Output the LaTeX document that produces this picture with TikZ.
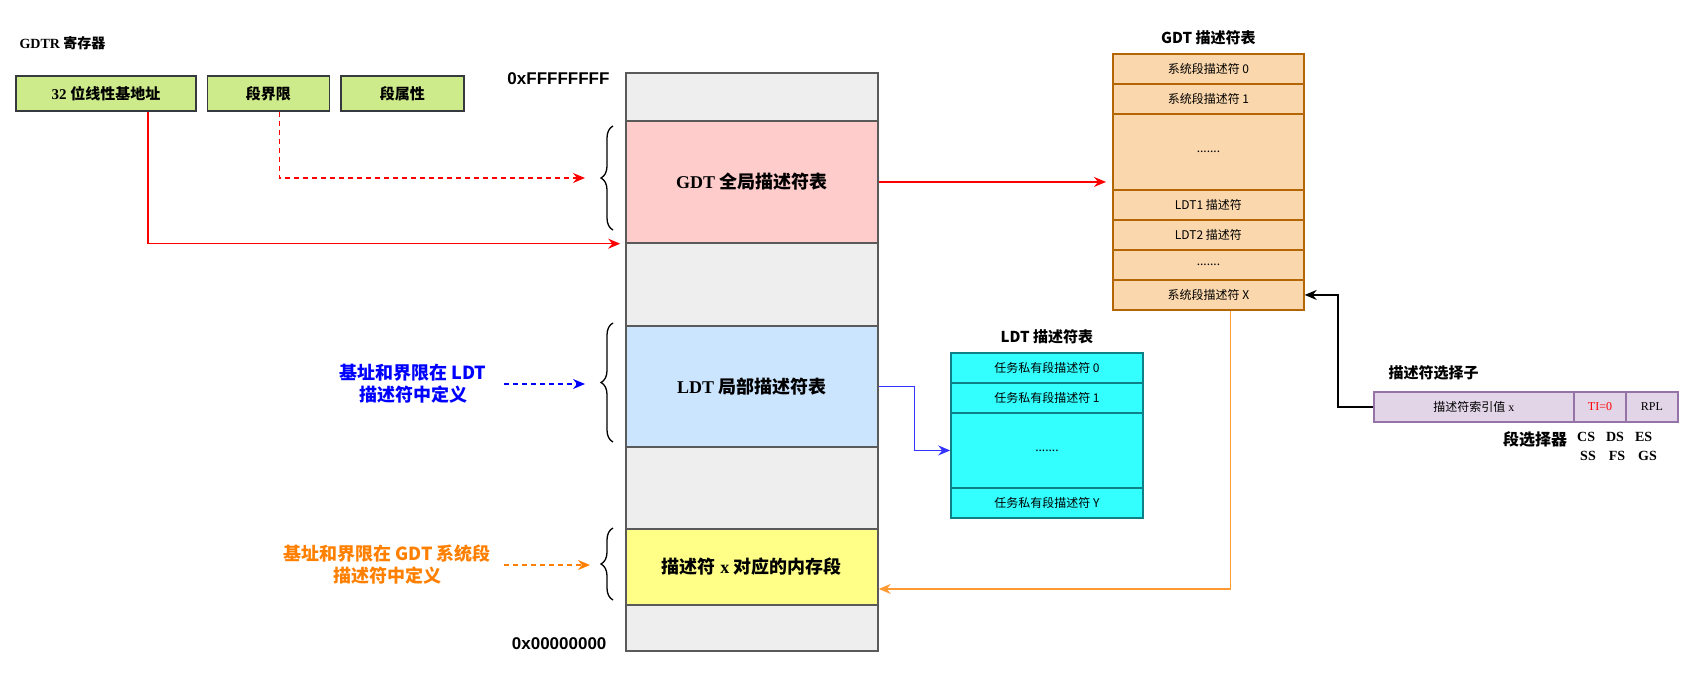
\documentclass[tikz,border=0pt]{standalone}
\usepackage{fontspec}
\setmainfont{Liberation Serif}
\setsansfont{Liberation Sans}
\newfontfamily\cjk{Noto Sans CJK SC}
\usepackage{tikz}
\usetikzlibrary{matrix,arrows.meta,positioning,decorations.pathreplacing}

\definecolor{regfill}{HTML}{CDEB8B}
\definecolor{regline}{HTML}{36393D}
\definecolor{memgray}{HTML}{EEEEEE}
\definecolor{memline}{HTML}{5A5A5A}
\definecolor{gdtpink}{HTML}{FFCCCC}
\definecolor{ldtblue}{HTML}{CCE5FF}
\definecolor{segyellow}{HTML}{FFFF88}
\definecolor{gdtfill}{HTML}{FAD7AC}
\definecolor{gdtline}{HTML}{B46504}
\definecolor{ldtfill}{HTML}{33FFFF}
\definecolor{ldtline}{HTML}{0E8088}
\definecolor{selfill}{HTML}{E1D5E7}
\definecolor{selline}{HTML}{9673A6}
\definecolor{linkred}{HTML}{FF0000}
\definecolor{linkblue}{HTML}{3333FF}
\definecolor{noteblue}{HTML}{0000FF}
\definecolor{noteorange}{HTML}{FF8000}
\definecolor{linkorange}{HTML}{FF9933}

\newcommand\zh[1]{{\cjk #1}}

\tikzset{
  regbox/.style={draw=regline, fill=regfill, line width=1.5pt, minimum height=35,
    anchor=center, font=\fontsize{15}{18}\selectfont\bfseries},
  memcell/.style={draw=memline, fill=memgray, line width=1.5pt, minimum width=252,
    inner sep=0pt, anchor=center, font=\fontsize{18}{22}\selectfont\bfseries},
  gdtseg/.style={fill=gdtpink, minimum height=122},
  ldtseg/.style={fill=ldtblue, minimum height=121},
  dataseg/.style={fill=segyellow, minimum height=76},
  gdtcell/.style={draw=gdtline, fill=gdtfill, line width=1.5pt, minimum width=191,
    minimum height=30, anchor=center, font=\cjk\fontsize{12}{14}\selectfont},
  ldtcell/.style={draw=ldtline, fill=ldtfill, line width=1.5pt, minimum width=192,
    minimum height=30, anchor=center, font=\cjk\fontsize{12}{14}\selectfont},
  selcell/.style={draw=selline, fill=selfill, line width=1.5pt, minimum height=30,
    anchor=center, font=\fontsize{12}{14}\selectfont},
  tabletitle/.style={font=\cjk\fontsize{15}{18}\selectfont\bfseries},
  memonote/.style={align=center, font=\cjk\fontsize{18}{22}\selectfont\bfseries},
  curly/.style={decorate, decoration={brace, amplitude=12pt}, line width=1.3pt},
  wire/.style={->, line width=1.5pt},
  hint/.style={->, line width=1.5pt, dash pattern=on 5pt off 4pt},
}

\begin{document}
\begin{tikzpicture}[x=1pt, y=-1pt, >={Stealth[length=12pt, width=10pt, inset=4pt]}]
  \useasboundingbox (0,0) rectangle (1691,677);

  % GDTR register
  \node (gdtrname) [anchor=west, font=\fontsize{14}{17}\selectfont\bfseries] at (16,43) {GDTR \zh{寄存器}};
  \matrix (gdtr) [matrix of nodes, anchor=north west, inner sep=0pt, column sep=10pt, nodes={regbox}] at (15,75)
  {
    |[minimum width=180]| 32 \zh{位线性基地址} & |[minimum width=122]| \zh{段界限} & |[minimum width=123]| \zh{段属性} \\
  };

  % memory
  \matrix (mem) [matrix of nodes, nodes in empty cells, anchor=north west, inner sep=0pt, row sep=-1.5pt, nodes={memcell}] at (625,72)
  {
    |[minimum height=48]| \\
    |[gdtseg]| GDT \zh{全局描述符表} \\
    |[minimum height=83]| \\
    |[ldtseg]| LDT \zh{局部描述符表} \\
    |[minimum height=82]| \\
    |[dataseg]| \zh{描述符} x \zh{对应的内存段} \\
    |[minimum height=46]| \\
  };
  \node (hi) [anchor=east, font=\sffamily\bfseries\fontsize{17}{20}\selectfont] at (613,79) {0xFFFFFFFF};
  \node (lo) [anchor=east, font=\sffamily\bfseries\fontsize{17}{20}\selectfont] at (610,644) {0x00000000};

  \draw[curly] (613,230) -- node[midway, coordinate, left=12pt] (gdtbr) {} (613,126);
  \draw[curly] (613,442) -- node[midway, coordinate, left=12pt] (ldtbr) {} (613,323);
  \draw[curly] (613,600) -- node[midway, coordinate, left=12pt] (segbr) {} (613,528);

  % GDT / LDT tables
  \matrix (gdt) [matrix of nodes, anchor=north west, inner sep=0pt, row sep=-1.5pt, nodes={gdtcell}] at (1112,53)
  {
    系统段描述符 0 \\
    系统段描述符 1 \\
    |[minimum height=76]| ....... \\
    LDT1 描述符 \\
    LDT2 描述符 \\
    ....... \\
    系统段描述符 X \\
  };
  \node (gdttitle) [tabletitle, above=5pt of gdt] {GDT 描述符表};

  \matrix (ldt) [matrix of nodes, anchor=north west, inner sep=0pt, row sep=-1.5pt, nodes={ldtcell}] at (950,352)
  {
    任务私有段描述符 0 \\
    任务私有段描述符 1 \\
    |[minimum height=75]| ....... \\
    任务私有段描述符 Y \\
  };
  \node (ldttitle) [tabletitle, above=5pt of ldt] {LDT 描述符表};

  % selector
  \matrix (sel) [matrix of nodes, anchor=north west, inner sep=0pt, column sep=-1.5pt, nodes={selcell}] at (1373,391)
  {
    |[minimum width=200]| \zh{描述符索引值} x & |[minimum width=52, text=linkred]| TI=0 & |[minimum width=52]| RPL \\
  };
  \node (seltitle) [tabletitle, anchor=west] at (1385,373) {描述符选择子};
  \node (segname) [anchor=west, inner sep=0pt, font=\cjk\fontsize{16}{19}\selectfont\bfseries] at (1503,439) {段选择器};
  \node (segregs) [anchor=north west, inner sep=0pt, align=left, font=\fontsize{14}{19}\selectfont\bfseries] at (1577,432)
    {CS\hspace{11pt}DS\hspace{11pt}ES\\\hspace*{3pt}SS\hspace{13pt}FS\hspace{13pt}GS};

  % notes
  \node (ldtnote) [memonote, text=noteblue] at (413,384) {基址和界限在 LDT\\描述符中定义};
  \node (segnote) [memonote, text=noteorange] at (387,565) {基址和界限在 GDT 系统段\\描述符中定义};

  % links
  \draw[wire, linkred] ([xshift=42]gdtr-1-1.south) |- ([xshift=-5]mem-2-1.south west);
  \draw[hint, linkred] ([xshift=11]gdtr-1-2.south) |- ([xshift=-16]gdtbr);
  \draw[wire, linkred] (mem-2-1.east) -- ([xshift=-6]mem-2-1.east -| gdt.west);
  \draw[wire, linkblue] (mem-4-1.east) -- ++(36,0) |- (ldt-3-1.west);
  \draw[wire, linkorange] ([xshift=22]gdt.south) |- ([yshift=-22]mem-6-1.east);
  \draw[wire] (sel-1-1.west) -- ++(-35,0) |- (gdt-7-1.east);
  \draw[hint, noteblue, shorten <=14pt, shorten >=16pt] (ldtnote.east) -- (ldtnote.east -| ldtbr);
  \draw[hint, noteorange, shorten <=10pt, shorten >=11pt] (segnote.east) -- (segnote.east -| segbr);
\end{tikzpicture}
\end{document}
